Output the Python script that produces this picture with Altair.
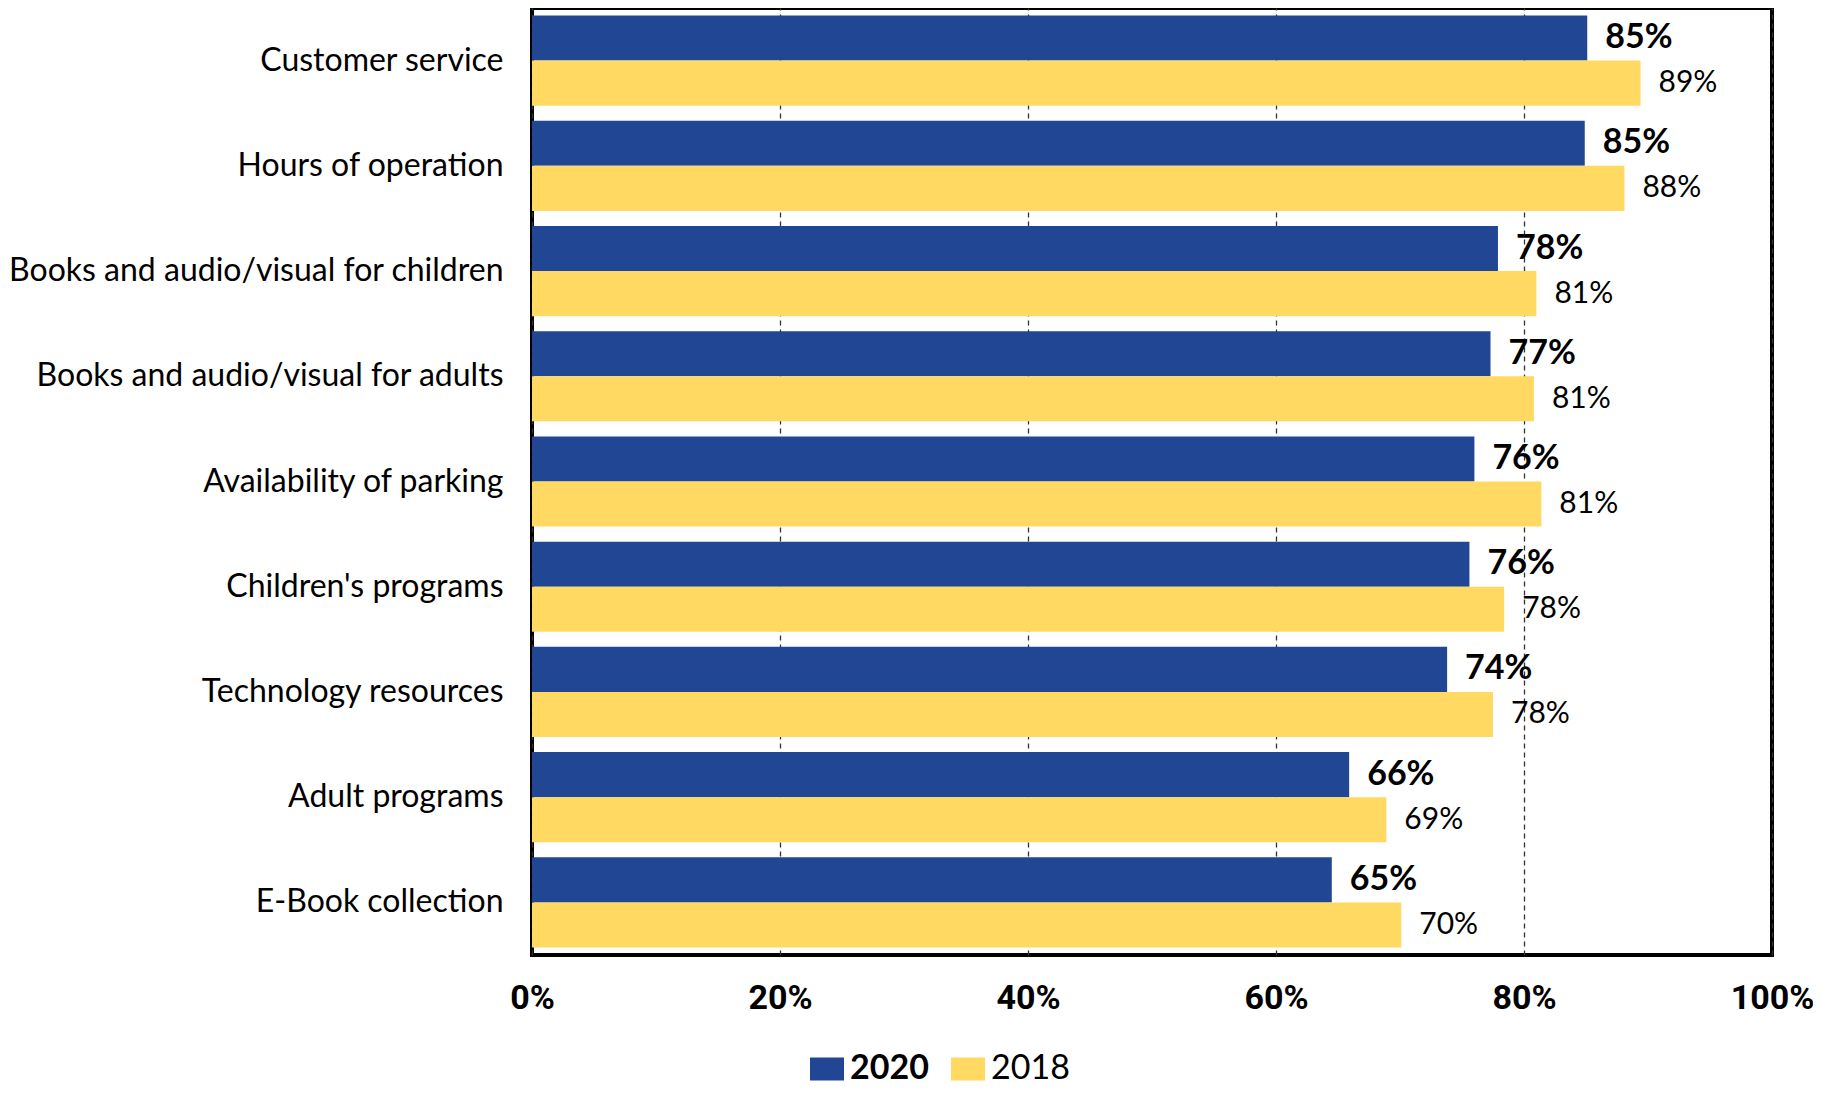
import altair as alt
import pandas as pd

categories = [
    "Customer service",
    "Hours of operation",
    "Books and audio/visual for children",
    "Books and audio/visual for adults",
    "Availability of parking",
    "Children's programs",
    "Technology resources",
    "Adult programs",
    "E-Book collection",
]
values_2020 = [85.1, 84.9, 77.9, 77.3, 76.0, 75.6, 73.8, 65.9, 64.5]
values_2018 = [89.4, 88.1, 81.0, 80.8, 81.4, 78.4, 77.5, 68.9, 70.1]
labels_2020 = ["85%", "85%", "78%", "77%", "76%", "76%", "74%", "66%", "65%"]
labels_2018 = ["89%", "88%", "81%", "81%", "81%", "78%", "78%", "69%", "70%"]
years = ["2020", "2018"]
colors = ["#214794", "#FFD961"]
x_ticks = [0, 20, 40, 60, 80, 100]

rows = []
for i, c in enumerate(categories):
    rows.append({"category": c, "year": "2020", "value": values_2020[i], "label": labels_2020[i]})
    rows.append({"category": c, "year": "2018", "value": values_2018[i], "label": labels_2018[i]})
df = pd.DataFrame(rows)

CAT_FONT = "Lato"
TICK_FONT = "Roboto"

y_enc = alt.Y(
    "category:N",
    sort=categories,
    scale=alt.Scale(paddingInner=0.143, paddingOuter=0.0715),
    axis=alt.Axis(
        title=None, ticks=False, domain=False, labelFont=CAT_FONT, labelFontSize=32,
        labelColor="black", labelPadding=29, labelLimit=0,
    ),
)
yoff = alt.YOffset("year:N", sort=years, scale=alt.Scale(domain=years, paddingInner=0, paddingOuter=0))
x_enc = alt.X(
    "value:Q",
    scale=alt.Scale(domain=[0, 100], nice=False),
    axis=alt.Axis(
        values=x_ticks, title=None, labelExpr="datum.value + '%'", ticks=False, domain=False,
        grid=True, gridDash=[5, 4], gridColor="#333333", gridWidth=1.3,
        labelFont=TICK_FONT, labelFontWeight="bold", labelFontSize=34, labelColor="black",
        labelPadding=26, labelFlush=False, labelOverlap=False,
    ),
)

bars = alt.Chart(df).mark_bar().encode(
    y=y_enc,
    yOffset=yoff,
    x=x_enc,
    color=alt.Color(
        "year:N",
        sort=years,
        scale=alt.Scale(domain=years, range=colors),
        legend=alt.Legend(
            title=None, orient="none", legendX=278, legendY=1044, direction="horizontal",
            symbolType="M-1,-0.68H1V0.68H-1Z", symbolSize=1156, symbolStrokeWidth=0,
            symbolOpacity=1, labelFont=CAT_FONT, labelFontSize=34, labelColor="black",
            labelFontWeight={"expr": "datum.label == '2020' ? 'bold' : 'normal'"},
            columnPadding=22, labelOffset=6,
        ),
    ),
)

t2020 = alt.Chart(df).transform_filter("datum.year == '2020'").mark_text(
    align="left", baseline="middle", dx=18, font=CAT_FONT, fontSize=34, fontWeight="bold", color="black"
).encode(y=alt.Y("category:N", sort=categories), yOffset=alt.YOffset("year:N", sort=years), x="value:Q", text="label:N")

t2018 = alt.Chart(df).transform_filter("datum.year == '2018'").mark_text(
    align="left", baseline="middle", dx=18, font=CAT_FONT, fontSize=30, fontWeight="normal", color="black"
).encode(y=alt.Y("category:N", sort=categories), yOffset=alt.YOffset("year:N", sort=years), x="value:Q", text="label:N")

chart = alt.layer(bars, t2020, t2018).properties(
    width=1240,
    height=947,
    padding={"left": 524, "top": 0, "right": 41, "bottom": 130},
    autosize=alt.AutoSizeParams(type="none"),
    background="white",
).configure_view(stroke="black", strokeWidth=4)

chart.save("out.html", embed_options={"renderer": "svg", "actions": False})
